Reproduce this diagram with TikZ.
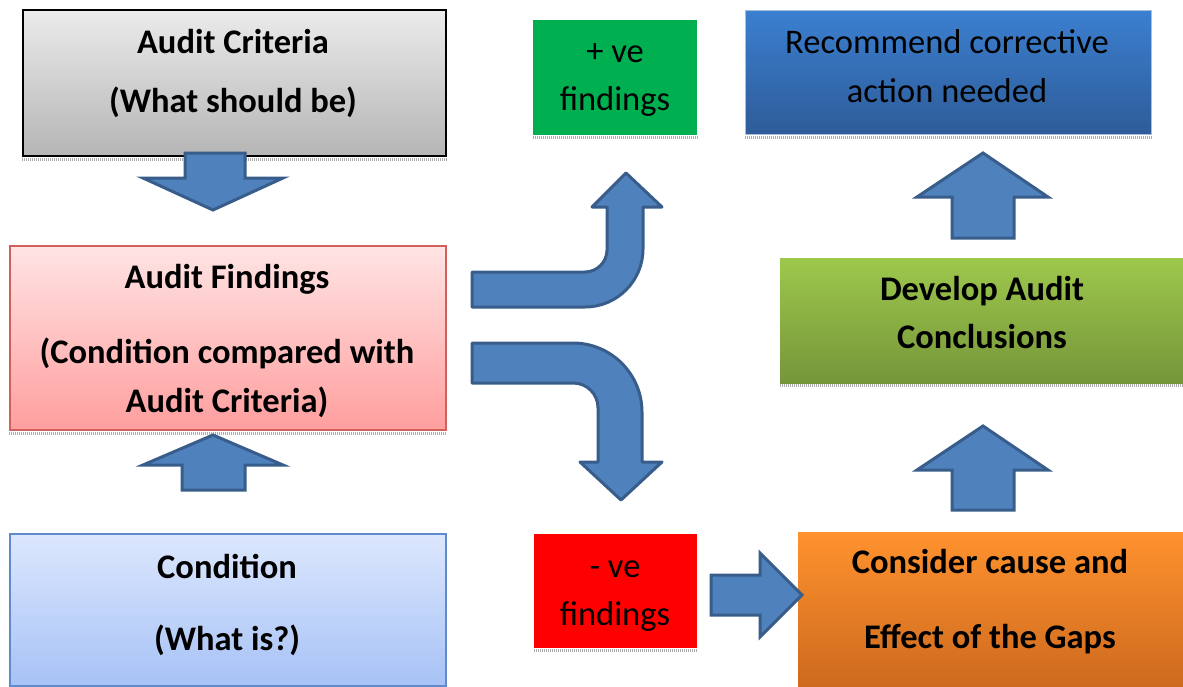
\documentclass[tikz,border=0pt]{standalone}
\usepackage{fontspec}
\setmainfont{Carlito}
\definecolor{arrowfill}{HTML}{4F81BD}
\definecolor{arrowdraw}{HTML}{385D8A}
\definecolor{critTop}{HTML}{EBEBEB}
\definecolor{critBot}{HTML}{B5B5B5}
\definecolor{findTop}{HTML}{FFE4E4}
\definecolor{findBot}{HTML}{FF9E9E}
\definecolor{findLine}{HTML}{D0605C}
\definecolor{condTop}{HTML}{DCE7FD}
\definecolor{condBot}{HTML}{A7C2F6}
\definecolor{condLine}{HTML}{5F8ACB}
\definecolor{posFill}{HTML}{00B050}
\definecolor{negFill}{HTML}{FF0000}
\definecolor{recTop}{HTML}{3B7FD0}
\definecolor{recBot}{HTML}{2E5C98}
\definecolor{recLine}{HTML}{A6BEDC}
\definecolor{devTop}{HTML}{9DC84C}
\definecolor{devBot}{HTML}{76953A}
\definecolor{consTop}{HTML}{FF922E}
\definecolor{consBot}{HTML}{CD6A1E}
\tikzset{
  box/.style={rectangle, anchor=north west, inner sep=0pt},
  txt/.style={anchor=base, inner sep=0pt, font=\fontsize{34.5}{40}\selectfont},
  btxt/.style={txt, font=\fontsize{34.5}{40}\selectfont\bfseries},
  blockarrow/.style={fill=arrowfill, draw=arrowdraw, line width=3pt, line join=miter},
  bentarrow/.style={fill=arrowfill, draw=arrowdraw, line width=3pt, line join=round},
  shadowline/.style={draw=gray!65, line width=3pt, dash pattern=on 1pt off 1pt}
}
\begin{document}
\begin{tikzpicture}[x=1pt,y=-1pt]
\useasboundingbox (0,0) rectangle (1183,686);

% boxes
\node[box, minimum width=423pt, minimum height=146pt, top color=critTop, bottom color=critBot, draw=black, line width=2pt] (crit) at (22,9) {};
\node[box, minimum width=436pt, minimum height=184pt, top color=findTop, bottom color=findBot, draw=findLine, line width=2pt] (find) at (9,245) {};
\node[box, minimum width=436pt, minimum height=152pt, top color=condTop, bottom color=condBot, draw=condLine, line width=1.5pt] (cond) at (9,533) {};
\node[box, minimum width=164pt, minimum height=115pt, fill=posFill] (pos) at (533,20) {};
\node[box, minimum width=163pt, minimum height=114pt, fill=negFill] (neg) at (534,534) {};
\node[box, minimum width=406pt, minimum height=124pt, top color=recTop, bottom color=recBot, draw=recLine, line width=1pt] (rec) at (745,10) {};
\node[box, minimum width=403pt, minimum height=125pt, top color=devTop, bottom color=devBot] (dev) at (780,258) {};
\node[box, minimum width=385pt, minimum height=154pt, top color=consTop, bottom color=consBot] (cons) at (798,532) {};

% shadows
\foreach \b in {crit,find,pos,neg,rec,dev}{
  \draw[shadowline] ([yshift=-2.5pt]\b.south west) -- ([yshift=-2.5pt]\b.south east);
}

% texts
\node[btxt] (crit1) at (233,53) {Audit Criteria};
\node[btxt] (crit2) at (233,112) {(What should be)};
\node[btxt] (find1) at (227,288) {Audit Findings};
\node[btxt] (find2) at (227,363) {(Condition compared with};
\node[btxt] (find3) at (227,412) {Audit Criteria)};
\node[btxt] (cond1) at (227,578) {Condition};
\node[btxt] (cond2) at (227,650) {(What is?)};
\node[txt] (pos1) at (615,62) {+ ve};
\node[txt] (pos2) at (615,110) {findings};
\node[txt] (neg1) at (615,577) {- ve};
\node[txt] (neg2) at (615,625) {findings};
\node[txt] (rec1) at (947,53) {Recommend corrective};
\node[txt] (rec2) at (947,102) {action needed};
\node[btxt] (dev1) at (982,300) {Develop Audit};
\node[btxt] (dev2) at (982,348) {Conclusions};
\node[btxt] (cons1) at (990,573) {Consider cause and};
\node[btxt] (cons2) at (990,648) {Effect of the Gaps};

% straight block arrows
\draw[blockarrow] (185,153) -- (245,153) -- (245,178) -- (283,178) -- (213,210) -- (143,178) -- (185,178) -- cycle;
\draw[blockarrow] (213,435) -- (283,465) -- (245,465) -- (245,490) -- (182,490) -- (182,465) -- (143,465) -- cycle;
\draw[blockarrow] (983,153) -- (1048,197) -- (1014,197) -- (1014,238) -- (952,238) -- (952,197) -- (917,197) -- cycle;
\draw[blockarrow] (983,426) -- (1048,470) -- (1014,470) -- (1014,510) -- (952,510) -- (952,470) -- (917,470) -- cycle;
\draw[blockarrow] (711,575) -- (760,575) -- (760,553) -- (802,595) -- (760,637) -- (760,615) -- (711,615) -- cycle;

% bent arrows
\draw[bentarrow] (472,272) -- (585,272) .. controls (597,272) and (607,262) .. (607,250)
  -- (607,207) -- (592,207) -- (626,173) -- (662,207) -- (643,207) -- (643,249)
  .. controls (643,281) and (617,307) .. (585,307) -- (472,307) -- cycle;
\draw[bentarrow] (472,343) -- (573,343) .. controls (611,343) and (642,374) .. (642,412)
  -- (642,462) -- (662,462) -- (621,500) -- (580,462) -- (598,462) -- (598,408)
  .. controls (598,394) and (587,383) .. (573,383) -- (472,383) -- cycle;
\end{tikzpicture}
\end{document}
